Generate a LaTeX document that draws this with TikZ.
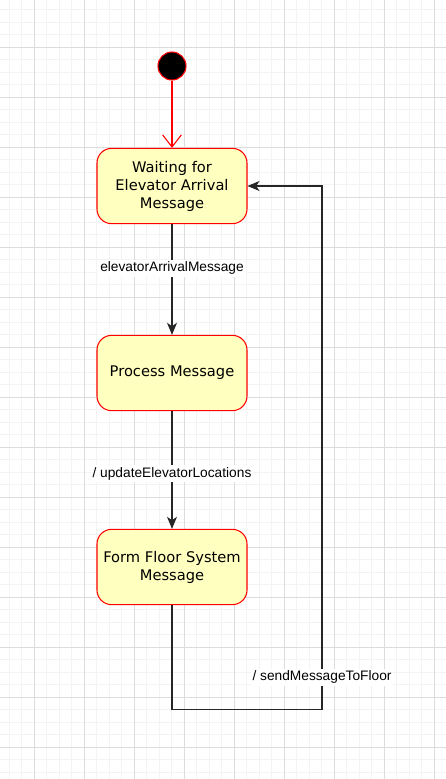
\documentclass[tikz,border=0pt]{standalone}
\usepackage{fontspec}
\setmainfont{DejaVu Sans}
\newfontfamily\labelfont{Liberation Sans}
\usetikzlibrary{arrows.meta}
\definecolor{statefill}{HTML}{FFFFC0}
\definecolor{gridminor}{HTML}{F3F3F3}
\definecolor{gridmajor}{HTML}{DCDCDC}
\tikzset{
  state/.style={draw=red, fill=statefill, rounded corners=11pt, line width=0.8pt,
    minimum width=112.5pt, minimum height=56.5pt, align=center,
    font=\fontsize{11}{13.5}\selectfont},
  initial/.style={circle, draw=red, fill=black, minimum size=21pt, inner sep=0pt, line width=0.8pt},
  trans/.style={draw=black!85, line width=0.8pt, -{Stealth[length=9pt,width=7.5pt,inset=2.5pt]}},
  lbl/.style={fill=white, inner sep=1.5pt, font=\labelfont\fontsize{10.3}{12}\selectfont}
}
\begin{document}
\begin{tikzpicture}[x=0.75pt, y=-0.75pt]
  \useasboundingbox (0,0) rectangle (446,779);
  \fill[white] (0,0) rectangle (446,779);
  % grid
  \foreach \x in {9.3,21.8,...,446} \draw[gridminor, line width=0.6pt] (\x,0) -- (\x,779);
  \foreach \y in {9.8,22.3,...,779} \draw[gridminor, line width=0.6pt] (0,\y) -- (446,\y);
  \foreach \x in {34.3,84.3,...,446} \draw[gridmajor, line width=0.6pt] (\x,0) -- (\x,779);
  \foreach \y in {47.3,97.3,...,779} \draw[gridmajor, line width=0.6pt] (0,\y) -- (446,\y);

  \node[initial] (start) at (172,66) {};
  \node[state] (wait) at (172,186) {Waiting for\\Elevator Arrival\\Message};
  \node[state] (proc) at (172,373) {Process Message};
  \node[state] (form) at (172,567) {Form Floor System\\Message};
  \coordinate (loopA) at (322,709.3);

  \begin{scope}[trans]
    \draw[red, -{Straight Barb[length=9pt,width=14pt]}] (start) to (wait);
    \draw (wait) to node[lbl, pos=0.4] (arrivalLbl) {elevatorArrivalMessage} (proc);
    \draw (proc) to node[lbl, pos=0.53] (updateLbl) {/ updateElevatorLocations} (form);
    \draw (form.south) |- (loopA) |- (wait.east);
  \end{scope}
  \node[lbl] (sendLbl) at (322,677.3) {/ sendMessageToFloor};
\end{tikzpicture}
\end{document}
